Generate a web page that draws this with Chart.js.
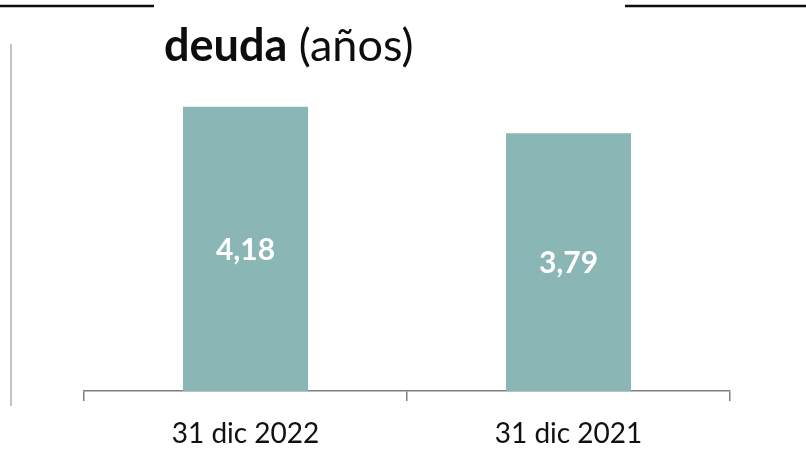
<!DOCTYPE html>
<html>
<head>
<meta charset="utf-8">
<script src="https://cdn.jsdelivr.net/npm/chart.js@4"></script>
<style>
  html, body { margin: 0; padding: 0; background: #ffffff; }
  #wrap { width: 806px; height: 451px; position: relative; }
</style>
</head>
<body>
<div id="wrap"><canvas id="c"></canvas></div>
<script>
// Categories and values
const categories = ['31 dic 2022', '31 dic 2021'];
const deudaAnios = [4.18, 3.79];
const titleBold = 'deuda';
const titleRest = ' (años)';

const FONT = 'Lato, "Open Sans", sans-serif';

// Slide decorations: top rules and the light left rule, plus the title
const decorPlugin = {
  id: 'decor',
  beforeDraw(chart) {
    const ctx = chart.ctx;
    ctx.save();
    ctx.fillStyle = '#ffffff';
    ctx.fillRect(0, 0, chart.width, chart.height);
    ctx.strokeStyle = '#0d0d0d';
    ctx.lineWidth = 2.5;
    ctx.beginPath();
    ctx.moveTo(0, 6); ctx.lineTo(154, 6);
    ctx.moveTo(625, 6); ctx.lineTo(806, 6);
    ctx.stroke();
    ctx.strokeStyle = '#c4c4c4';
    ctx.lineWidth = 2;
    ctx.beginPath();
    ctx.moveTo(11, 44); ctx.lineTo(11, 406);
    ctx.stroke();
    ctx.restore();
  },
  afterDraw(chart) {
    const ctx = chart.ctx;
    ctx.save();
    ctx.fillStyle = '#0d0d0d';
    ctx.textBaseline = 'alphabetic';
    ctx.textAlign = 'left';
    const x0 = 164, base = 61;
    ctx.font = 'bold 45px ' + FONT;
    ctx.fillText(titleBold, x0, base);
    const w = ctx.measureText(titleBold).width;
    ctx.font = '45px ' + FONT;
    ctx.fillText(titleRest, x0 + w, base);
    ctx.restore();
  }
};

// Value labels centred inside each bar
const valueLabels = {
  id: 'valueLabels',
  afterDatasetsDraw(chart) {
    const ctx = chart.ctx;
    const meta = chart.getDatasetMeta(0);
    ctx.save();
    ctx.fillStyle = '#ffffff';
    ctx.font = 'bold 30px ' + FONT;
    ctx.textAlign = 'center';
    ctx.textBaseline = 'middle';
    meta.data.forEach((bar, i) => {
      const v = chart.data.datasets[0].data[i];
      const txt = v.toFixed(2).replace('.', ',');
      ctx.fillText(txt, bar.x, (bar.y + bar.base) / 2 + 1);
    });
    ctx.restore();
  }
};

new Chart(document.getElementById('c'), {
  type: 'bar',
  data: {
    labels: categories,
    datasets: [{
      data: deudaAnios,
      backgroundColor: '#8bb6b6',
      borderWidth: 0,
      categoryPercentage: 1,
      barPercentage: 0.387
    }]
  },
  options: {
    responsive: true,
    maintainAspectRatio: false,
    animation: false,
    devicePixelRatio: 1,
    layout: { padding: { top: 51, left: 84, right: 76, bottom: 0 } },
    plugins: {
      legend: { display: false },
      title: { display: false },
      tooltip: { enabled: false }
    },
    scales: {
      x: {
        offset: true,
        grid: {
          display: true,
          offset: true,
          drawOnChartArea: false,
          drawTicks: true,
          tickLength: 10,
          color: '#7f7f7f',
          lineWidth: 1.5
        },
        border: { display: true, color: '#7f7f7f', width: 1.5 },
        ticks: {
          color: '#111111',
          font: { family: FONT, size: 28 },
          padding: 16,
          maxRotation: 0
        },
        afterFit(scale) { scale.height = 60; }
      },
      y: {
        display: false,
        min: 0,
        max: 5
      }
    }
  },
  plugins: [decorPlugin, valueLabels]
});
</script>
</body>
</html>
